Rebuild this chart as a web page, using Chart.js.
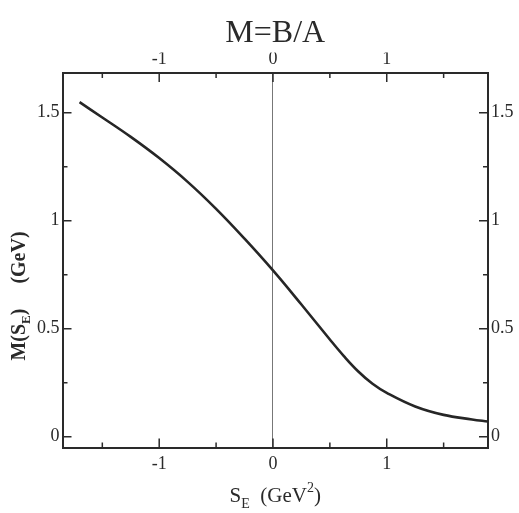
<!DOCTYPE html>
<html>
<head>
<meta charset="utf-8">
<script src="https://cdn.jsdelivr.net/npm/chart.js@4"></script>
<style>
  html, body { margin: 0; padding: 0; background: #fff; }
  #wrap { width: 519px; height: 513px; }
</style>
</head>
<body>
<div id="wrap"><canvas id="c" width="519" height="513"></canvas></div>
<script>
// curve: M(S_E) in GeV against S_E in GeV^2
const sE   = [-1.7, -1.5, -1.25, -1.0, -0.75, -0.5, -0.25, 0, 0.25, 0.5, 0.625, 0.75, 0.875, 1.0, 1.25, 1.5, 1.75, 1.89];
const mass = [1.549, 1.478, 1.388, 1.290, 1.180, 1.055, 0.917, 0.770, 0.612, 0.450, 0.372, 0.302, 0.245, 0.203, 0.140, 0.101, 0.080, 0.070];

const xMajor = [-1, 0, 1];
const xMinor = [-1.5, -0.5, 0.5, 1.5];
const yMajor = [0, 0.5, 1, 1.5];
const yMinor = [0.25, 0.75, 1.25];

const SERIF = '"Liberation Serif", "DejaVu Serif", serif';
const INK = '#2a2a2a';

function setTicks(list) {
  return scale => { scale.ticks = list.map(v => ({ value: v })); };
}

// inward tick marks on all four sides + axis titles with sub/superscripts
const framePlugin = {
  id: 'frame',
  afterDraw(chart) {
    const ctx = chart.ctx, a = chart.chartArea;
    const sx = chart.scales.x, sy = chart.scales.y;
    ctx.save();
    ctx.strokeStyle = INK;
    ctx.lineWidth = 1.5;
    const tickX = (vals, len) => vals.forEach(v => {
      const px = sx.getPixelForValue(v);
      ctx.beginPath();
      ctx.moveTo(px, a.bottom); ctx.lineTo(px, a.bottom - len);
      ctx.moveTo(px, a.top); ctx.lineTo(px, a.top + len);
      ctx.stroke();
    });
    const tickY = (vals, len) => vals.forEach(v => {
      const py = sy.getPixelForValue(v);
      ctx.beginPath();
      ctx.moveTo(a.left, py); ctx.lineTo(a.left + len, py);
      ctx.moveTo(a.right, py); ctx.lineTo(a.right - len, py);
      ctx.stroke();
    });
    tickX(xMajor, 9); tickX(xMinor, 5);
    tickY(yMajor, 9); tickY(yMinor, 5);

    ctx.fillStyle = INK;
    ctx.textBaseline = 'alphabetic';
    // x title: S_E (GeV^2)
    const big = '21px ' + SERIF, small = '14px ' + SERIF;
    const parts = [['S', big, 0], ['E', small, 6], ['  (GeV', big, 0], ['2', small, -10], [')', big, 0]];
    let w = 0;
    parts.forEach(p => { ctx.font = p[1]; w += ctx.measureText(p[0]).width; });
    let x = (a.left + a.right) / 2 - w / 2;
    parts.forEach(p => { ctx.font = p[1]; ctx.fillText(p[0], x, 502 + p[2]); x += ctx.measureText(p[0]).width; });

    // y title: M(S_E)   (GeV), rotated
    ctx.translate(25, 296);
    ctx.rotate(-Math.PI / 2);
    const bigB = 'bold 20px ' + SERIF, smallB = 'bold 13px ' + SERIF;
    const yparts = [['M(S', bigB, 0], ['E', smallB, 5], [')     (GeV)', bigB, 0]];
    w = 0;
    yparts.forEach(p => { ctx.font = p[1]; w += ctx.measureText(p[0]).width; });
    x = -w / 2;
    yparts.forEach(p => { ctx.font = p[1]; ctx.fillText(p[0], x, p[2]); x += ctx.measureText(p[0]).width; });
    ctx.restore();
  }
};

const tickFont = { family: SERIF, size: 18 };
const border = { display: true, color: INK, width: 2 };

new Chart(document.getElementById('c'), {
  type: 'scatter',
  data: {
    datasets: [{
      data: sE.map((v, i) => ({ x: v, y: mass[i] })),
      showLine: true,
      borderColor: '#262626',
      borderWidth: 2.6,
      pointRadius: 0,
      tension: 0.4
    }]
  },
  options: {
    responsive: false,
    animation: false,
    layout: { padding: 0 },
    plugins: {
      legend: { display: false },
      tooltip: { enabled: false },
      title: {
        display: true,
        text: 'M=B/A',
        fullSize: false,
        color: INK,
        font: { family: SERIF, size: 32, weight: 'normal' },
        padding: { top: 14, bottom: 0 }
      }
    },
    scales: {
      x: {
        type: 'linear', position: 'bottom', min: -1.85, max: 1.89,
        afterBuildTicks: setTicks(xMajor),
        afterFit: s => { s.height = 65.5; },
        ticks: { font: tickFont, color: INK, padding: 6, callback: v => String(v) },
        grid: { drawTicks: false, lineWidth: 1, color: c => (c.tick && c.tick.value === 0) ? '#777' : 'rgba(0,0,0,0)' },
        border: border
      },
      x2: {
        type: 'linear', position: 'top', min: -1.85, max: 1.89,
        afterBuildTicks: setTicks(xMajor),
        afterFit: s => { s.height = 20.6; },
        ticks: { font: tickFont, color: INK, padding: 3, callback: v => String(v) },
        grid: { display: false, drawTicks: false },
        border: border
      },
      y: {
        type: 'linear', position: 'left', min: -0.05, max: 1.684,
        afterBuildTicks: setTicks(yMajor),
        afterFit: s => { s.width = 62.5; },
        ticks: { font: tickFont, color: INK, padding: 3, callback: v => String(v) },
        grid: { display: false, drawTicks: false },
        border: border
      },
      y2: {
        type: 'linear', position: 'right', min: -0.05, max: 1.684,
        afterBuildTicks: setTicks(yMajor),
        afterFit: s => { s.width = 31; },
        ticks: { font: tickFont, color: INK, padding: 3, callback: v => String(v) },
        grid: { display: false, drawTicks: false },
        border: border
      }
    }
  },
  plugins: [framePlugin]
});
</script>
</body>
</html>
